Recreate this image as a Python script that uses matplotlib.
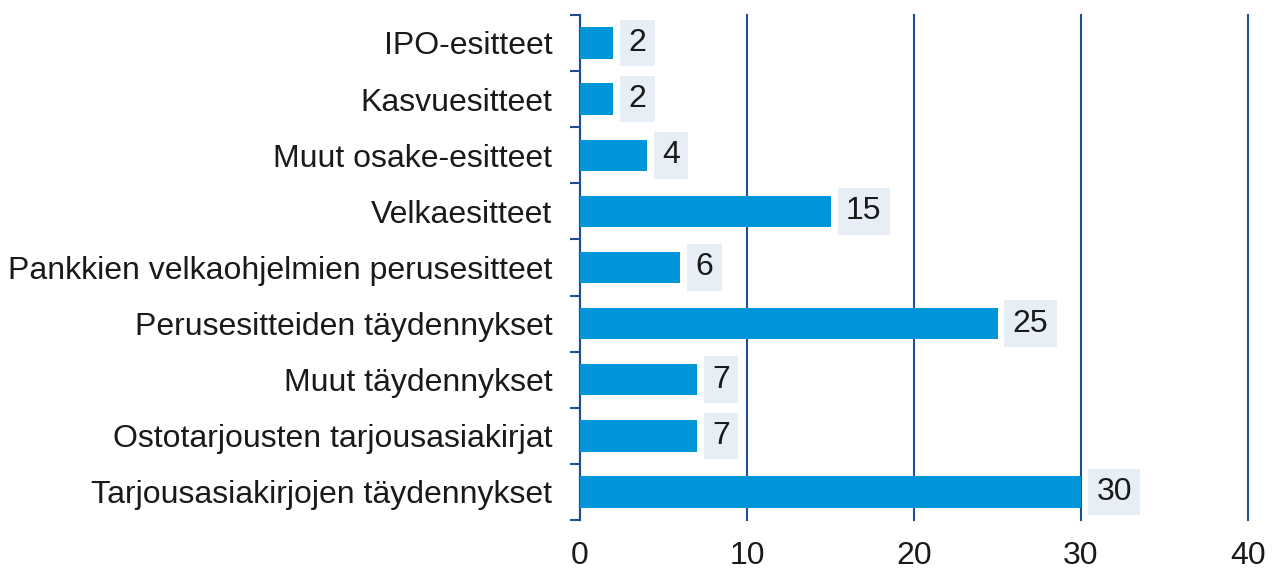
import matplotlib
matplotlib.use("Agg")
import matplotlib.pyplot as plt
import numpy as np

categories = ["IPO-esitteet", "Kasvuesitteet", "Muut osake-esitteet", "Velkaesitteet",
              "Pankkien velkaohjelmien perusesitteet", "Perusesitteiden täydennykset",
              "Muut täydennykset", "Ostotarjousten tarjousasiakirjat",
              "Tarjousasiakirjojen täydennykset"]
values = [2, 2, 4, 15, 6, 25, 7, 7, 30]
xticks = [0, 10, 20, 30, 40]

plt.rcParams['font.family'] = ['Liberation Sans', 'DejaVu Sans']
fig = plt.figure(figsize=(12.74, 5.74), dpi=100)
ax = fig.add_axes([0.4553, 0.094, 0.5243, 0.880])

dark = "#1F4E96"
bar_c = "#0095D9"
txt_c = "#1A1A1A"
fs = 23
y = np.arange(len(categories))
ax.barh(y, values, height=0.56, color=bar_c, zorder=3)
ax.set_ylim(len(categories) - 0.5, -0.5)
ax.set_xlim(0, 40)
ax.set_xticks(xticks)
ax.set_xticklabels([str(t) for t in xticks])
ax.set_yticks(y)
ax.set_yticklabels(categories)
ax.set_yticks(np.arange(len(categories) + 1) - 0.5, minor=True)
ax.tick_params(axis='y', which='major', length=0, pad=20, labelsize=fs, labelcolor=txt_c)
ax.tick_params(axis='y', which='minor', length=7, width=1.5, color=dark, direction='out')
ax.tick_params(axis='x', length=0, pad=15, labelsize=fs, labelcolor=txt_c)
for s in ['top', 'right', 'bottom']:
    ax.spines[s].set_visible(False)
ax.spines['left'].set_color(dark)
ax.spines['left'].set_linewidth(1.5)
ax.grid(axis='x', color=dark, linewidth=1.5, zorder=1)
for gl in ax.get_xgridlines():
    gl.set_clip_on(False)
ax.set_axisbelow(True)

for yi, v in zip(y, values):
    ax.annotate(str(v), xy=(v, yi), xytext=(11, 0), textcoords='offset points',
                va='center', ha='left', fontsize=fs, color=txt_c, zorder=5,
                bbox=dict(boxstyle='square,pad=0.26', fc='#E8EEF6', ec='none'))

fig.savefig("out.png", dpi=100)
